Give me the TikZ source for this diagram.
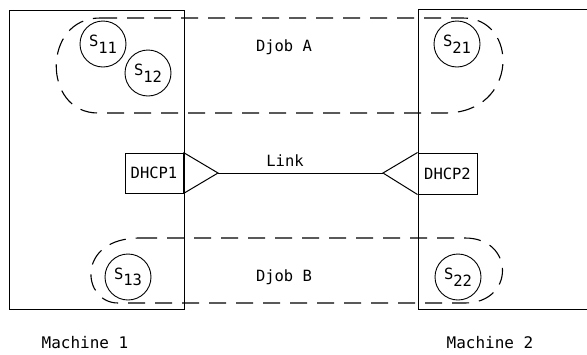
\documentclass[tikz,border=0pt]{standalone}
\usepackage{fontspec}
\newfontfamily\tw{DejaVu Sans Mono}
\newcommand\mysub[1]{\raisebox{-0.42em}{#1}}
\begin{document}
\begin{tikzpicture}[x=1pt,y=-1pt,
  every node/.style={font=\tw\fontsize{15.5}{18}\selectfont},
  solidline/.style={line width=1pt},
  djob/.style={line width=1.1pt, dash pattern=on 17pt off 10pt},
  circ/.style={draw, circle, line width=0.9pt, minimum size=46pt, inner sep=0pt},
  dhcp/.style={draw, rectangle, line width=1pt, minimum width=58pt, minimum height=40pt, inner sep=0pt},
  lbl/.style={inner sep=0pt}]
\useasboundingbox (0,0) rectangle (587,354);
% machines
\draw[solidline] (9,10) rectangle (184,309);
\draw[solidline] (587,9) -- (418,9) -- (418,309) -- (587,309);
% Djob A
\draw[djob] (100,18) -- (463,18) .. controls (519,18) and (519,113) .. (445,113)
  -- (98,113) .. controls (42,113) and (42,18) .. (100,18);
% Djob B
\draw[djob] (140,238) -- (465,238) .. controls (515,238) and (515,303) .. (465,303)
  -- (118,303) .. controls (82,303) and (75,238) .. (140,238);
% sites
\node[circ] (s11) at (103,44) {S\mysub{11}};
\node[circ] (s12) at (148,73) {S\mysub{12}};
\node[circ] (s21) at (457,44) {S\mysub{21}};
\node[circ] (s13) at (128,277) {S\mysub{13}};
\node[circ] (s22) at (458,277) {S\mysub{22}};
% DHCP
\node[dhcp] (d1) at (154,173) {DHCP1};
\node[dhcp, minimum width=59pt, minimum height=41pt] (d2) at (447.5,173.5) {DHCP2};
\coordinate (t1) at (218,173);
\coordinate (t2) at (383,173);
\draw[solidline] (d1.north east) -- (t1) -- (d1.south east);
\draw[solidline] (d2.north west) -- (t2) -- (d2.south west);
\draw[line width=0.9pt] (t1) -- (t2);
% labels
\node[lbl] (ja) at (284,47) {Djob A};
\node[lbl] (jb) at (284,277) {Djob B};
\node[lbl] (lk) at (285,161) {Link};
\node[lbl, font=\tw\fontsize{16}{18}\selectfont] (m1) at (85,343) {Machine 1};
\node[lbl, font=\tw\fontsize{16}{18}\selectfont] (m2) at (490,343) {Machine 2};
\end{tikzpicture}
\end{document}
